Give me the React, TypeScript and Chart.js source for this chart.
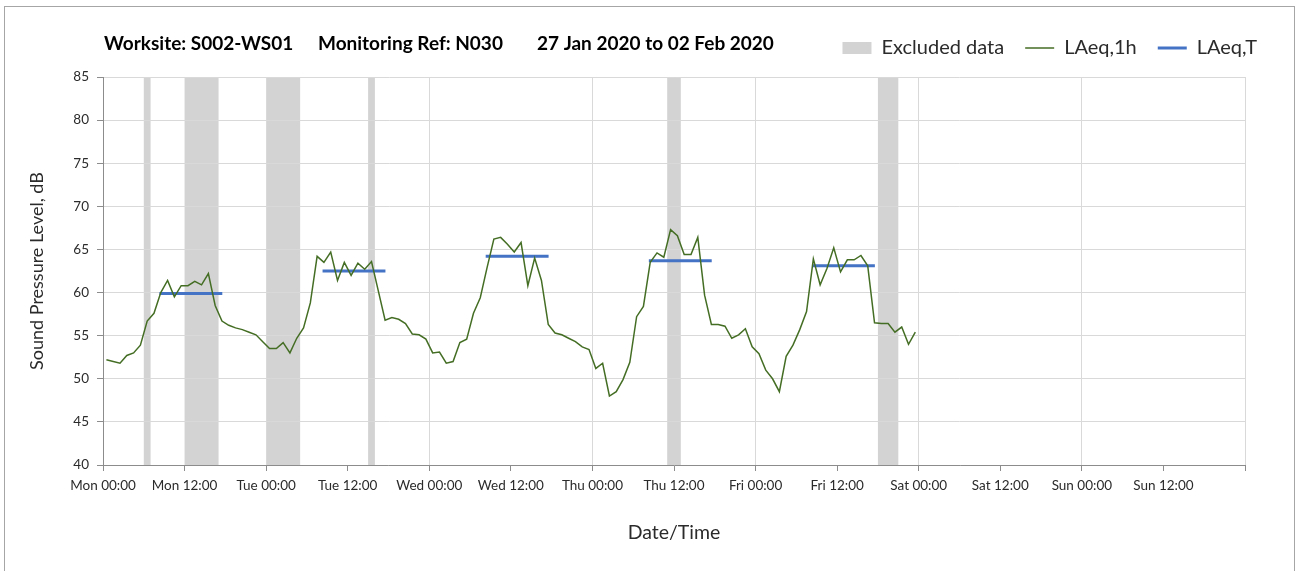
import React, { useEffect, useRef } from 'react';
import { Chart, registerables } from 'chart.js';

Chart.register(...registerables);

// ---- data ----
const dayLabels = ['Mon', 'Tue', 'Wed', 'Thu', 'Fri', 'Sat', 'Sun'];
const tickTimes = ['00:00', '12:00'];
const hoursShown = 168;

// hourly LAeq,1h values, Mon 00:00 .. Fri 23:00 (plotted mid-hour)
const laeq1hMon = [52.2, 52.0, 51.8, 52.7, 53.0, 53.9, 56.7, 57.6, 60.0, 61.4, 59.5, 60.8, 60.8, 61.3, 60.9, 62.2, 58.5, 56.7, 56.2, 55.9, 55.7, 55.4, 55.1, 54.3];
const laeq1hTue = [53.5, 53.5, 54.2, 53.0, 54.7, 55.9, 58.8, 64.2, 63.5, 64.7, 61.4, 63.5, 62.0, 63.4, 62.7, 63.6, 60.2, 56.8, 57.1, 56.9, 56.4, 55.2, 55.1, 54.6];
const laeq1hWed = [53.0, 53.1, 51.8, 52.0, 54.2, 54.6, 57.6, 59.4, 62.9, 66.2, 66.4, 65.6, 64.7, 65.8, 60.8, 64.0, 61.4, 56.3, 55.3, 55.1, 54.7, 54.3, 53.7, 53.4];
const laeq1hThu = [51.2, 51.8, 48.0, 48.5, 49.9, 51.9, 57.2, 58.4, 63.5, 64.6, 64.1, 67.3, 66.6, 64.4, 64.4, 66.4, 59.7, 56.3, 56.3, 56.1, 54.7, 55.1, 55.8, 53.7];
const laeq1hFri = [52.9, 51.0, 50.0, 48.5, 52.6, 53.9, 55.7, 57.8, 63.9, 60.9, 62.8, 65.2, 62.4, 63.8, 63.8, 64.3, 63.1, 56.5, 56.4, 56.4, 55.4, 56.0, 54.0, 55.4];
const laeq1h = [...laeq1hMon, ...laeq1hTue, ...laeq1hWed, ...laeq1hThu, ...laeq1hFri];

// LAeq,T per day (day index, value, period start/end hour within the day)
const laeqTDay = [0, 1, 2, 3, 4];
const laeqTValue = [59.9, 62.5, 64.2, 63.7, 63.1];
const laeqTStartHour = [8.3, 8.3, 8.3, 8.3, 8.3];
const laeqTEndHour = [17.55, 17.55, 17.55, 17.55, 17.55];

// excluded data periods (hours from Mon 00:00)
const excludedStart = [6, 12, 24, 39, 83, 114];
const excludedEnd = [7, 17, 29, 40, 85, 117];

const titleParts = ['Worksite: S002-WS01', 'Monitoring Ref: N030', '27 Jan 2020 to 02 Feb 2020'];

// ---- styles ----
const FONT = 'Lato, "Noto Sans", sans-serif';
const GREEN = '#456e25';
const BLUE = '#4472c4';
const BAND = '#d3d3d3';
const GRID = '#d9d9d9';
const AXIS = '#8c8c8c';
const TEXT = '#2b2b2b';

const bandsPlugin = {
  id: 'excludedBands',
  beforeDraw(chart: any) {
    const { ctx, chartArea, scales } = chart;
    const x = scales.x;
    ctx.save();
    ctx.fillStyle = BAND;
    excludedStart.forEach((s, i) => {
      const x0 = x.getPixelForValue(s);
      const x1 = x.getPixelForValue(excludedEnd[i]);
      ctx.fillRect(x0, chartArea.top, x1 - x0, chartArea.bottom - chartArea.top);
    });
    ctx.restore();
  },
};

const titlePlugin = {
  id: 'inlineTitle',
  afterDraw(chart: any) {
    const { ctx } = chart;
    const xs = [104, 318, 537];
    ctx.save();
    ctx.font = `bold 19px ${FONT}`;
    ctx.fillStyle = '#000';
    ctx.textBaseline = 'middle';
    ctx.textAlign = 'left';
    titleParts.forEach((t, i) => ctx.fillText(t, xs[i], 44));
    ctx.restore();
  },
};

export default function App() {
  const ref = useRef<HTMLCanvasElement>(null);

  useEffect(() => {
    const lineData = laeq1h.map((v, i) => ({ x: i + 0.5, y: v }));
    const tData: any[] = [];
    laeqTDay.forEach((d, i) => {
      tData.push({ x: d * 24 + laeqTStartHour[i], y: laeqTValue[i] });
      tData.push({ x: d * 24 + laeqTEndHour[i], y: laeqTValue[i] });
      tData.push({ x: d * 24 + laeqTEndHour[i], y: null });
    });

    const chart = new Chart(ref.current as HTMLCanvasElement, {
      type: 'line',
      data: {
        datasets: [
          {
            label: 'LAeq,1h',
            data: lineData,
            borderColor: GREEN,
            borderWidth: 1.5,
            pointRadius: 0,
            tension: 0,
          },
          {
            label: 'LAeq,T',
            data: tData,
            borderColor: BLUE,
            borderWidth: 3,
            pointRadius: 0,
            spanGaps: false,
            borderCapStyle: 'butt',
          },
        ],
      } as any,
      options: {
        responsive: false,
        animation: false,
        events: [],
        layout: { padding: { left: 4, right: 31, top: 17, bottom: 0 } },
        plugins: {
          tooltip: { enabled: false },
          title: { display: false },
          // empty spacer between legend row and plot area
          subtitle: {
            display: true,
            text: '',
            weight: 500,
            font: { size: 1, lineHeight: 1 },
            padding: { top: 8, bottom: 0 },
          },
          legend: {
            display: true,
            position: 'top',
            align: 'end',
            labels: {
              usePointStyle: true,
              pointStyleWidth: 29,
              boxHeight: 12,
              padding: 21,
              color: TEXT,
              font: { family: FONT, size: 20 },
              generateLabels: () => [
                { text: 'Excluded data', fillStyle: BAND, strokeStyle: BAND, lineWidth: 0, pointStyle: 'rect', hidden: false, fontColor: TEXT },
                { text: 'LAeq,1h', fillStyle: GREEN, strokeStyle: GREEN, lineWidth: 1.5, pointStyle: 'line', hidden: false, fontColor: TEXT, datasetIndex: 0 },
                { text: 'LAeq,T', fillStyle: BLUE, strokeStyle: BLUE, lineWidth: 3, pointStyle: 'line', hidden: false, fontColor: TEXT, datasetIndex: 1 },
              ] as any,
            },
          },
        },
        scales: {
          x: {
            type: 'linear',
            min: 0,
            max: hoursShown,
            afterFit(s: any) {
              s.height = 106;
              s.paddingRight = 64;
              s.paddingLeft = 0;
            },
            ticks: {
              stepSize: 12,
              autoSkip: false,
              maxRotation: 0,
              minRotation: 0,
              padding: 7,
              color: TEXT,
              font: { family: FONT, size: 13.5 },
              callback: (v: any) => {
                const n = Number(v);
                if (n >= hoursShown) return '';
                return `${dayLabels[Math.floor(n / 24)]} ${tickTimes[(n % 24) / 12]}`;
              },
            },
            grid: {
              color: (c: any) => (c.tick && c.tick.value % 24 === 0 ? GRID : 'rgba(0,0,0,0)'),
              tickColor: AXIS,
              tickLength: 6,
              lineWidth: 1,
            },
            border: { color: AXIS, width: 1 },
            title: {
              display: true,
              text: 'Date/Time',
              color: TEXT,
              font: { family: FONT, size: 19.5 },
              padding: { top: 0, bottom: 27 },
            },
          },
          y: {
            min: 40,
            max: 85,
            afterFit(s: any) {
              s.width = 99;
            },
            ticks: {
              stepSize: 5,
              padding: 8,
              color: TEXT,
              font: { family: FONT, size: 13.5 },
            },
            grid: { color: GRID, tickColor: AXIS, tickLength: 6, lineWidth: 1 },
            border: { color: AXIS, width: 1 },
            title: {
              display: true,
              text: 'Sound Pressure Level, dB',
              color: TEXT,
              font: { family: FONT, size: 18 },
              padding: { top: 22, bottom: 0 },
            },
          },
        },
      } as any,
      plugins: [bandsPlugin, titlePlugin],
    });
    return () => chart.destroy();
  }, []);

  return (
    <div style={{ position: 'fixed', left: 0, top: 0, width: 1309, height: 571, overflow: 'hidden', background: '#fff' }}>
      <div style={{ position: 'absolute', left: 4, top: 6, width: 1291, height: 620, border: '1px solid #a6a6a6', boxSizing: 'border-box' }} />
      <canvas ref={ref} width={1309} height={571} style={{ position: 'absolute', left: 0, top: 0, width: 1309, height: 571 }} />
    </div>
  );
}
